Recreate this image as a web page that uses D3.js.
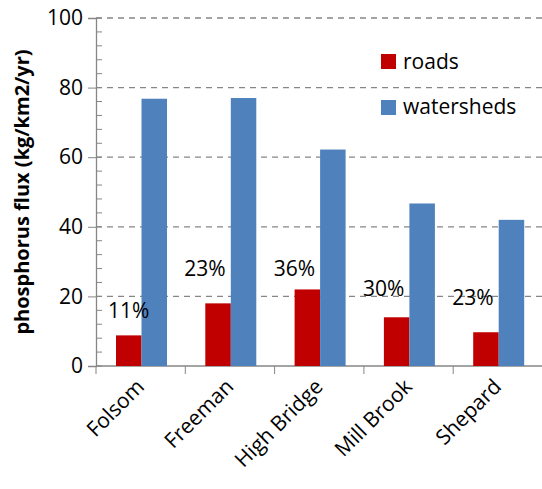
<!DOCTYPE html>
<html><head><meta charset="utf-8">
<script src="https://cdn.jsdelivr.net/npm/d3@7"></script>
<style>body{margin:0;background:#fff}text{font-family:"Open Sans","Liberation Sans",sans-serif}</style>
</head><body><svg id="c" width="542" height="489"></svg>
<script>
// chart values
var sites = ["Folsom", "Freeman", "High Bridge", "Mill Brook", "Shepard"];
var roads = [8.8, 18, 22, 14, 9.7];
var watersheds = [76.8, 77, 62.2, 46.7, 42];
var pctLabels = ["11%", "23%", "36%", "30%", "23%"];
var pctLabelAt = [13.8, 25.8, 25.8, 20, 17.5];
var yTicks = [0, 20, 40, 60, 80, 100];
var yMinor = d3.range(0, 101, 4);

var svg = d3.select("#c");
var mLeft = 96, mRight = 542.5, mTop = 18, mBottom = 366;

var x = d3.scaleBand().domain(sites).range([mLeft, mRight]);
var y = d3.scaleLinear().domain([0, 100]).range([mBottom, mTop]);
var bw = 25.5, off = 20;

// dashed gridlines
svg.selectAll(".g").data(yTicks.slice(1)).enter().append("line")
  .attr("x1", mLeft).attr("x2", 542).attr("y1", d => y(d)).attr("y2", d => y(d))
  .attr("stroke", "#868686").attr("stroke-width", 1.3).attr("stroke-dasharray", "6,5");

// minor ticks (inside)
svg.selectAll(".mt").data(yMinor).enter().append("line")
  .attr("x1", mLeft).attr("x2", mLeft + 6).attr("y1", d => y(d)).attr("y2", d => y(d))
  .attr("stroke", "#868686");

// y axis
var ya = svg.append("g").attr("transform", `translate(${mLeft},0)`)
  .call(d3.axisLeft(y).tickValues(yTicks).tickSize(8).tickPadding(5));
ya.select(".domain").attr("stroke", "#868686").attr("stroke-width", 1.3);
ya.selectAll("line").attr("stroke", "#868686");
ya.selectAll("text").attr("font-size", 21).attr("fill", "#000");

// x axis
svg.append("line").attr("x1", mLeft).attr("x2", 542).attr("y1", mBottom).attr("y2", mBottom)
  .attr("stroke", "#868686").attr("stroke-width", 1.3);
svg.selectAll(".xt").data(d3.range(sites.length)).enter().append("line")
  .attr("x1", i => mLeft + i * x.bandwidth()).attr("x2", i => mLeft + i * x.bandwidth())
  .attr("y1", mBottom).attr("y2", mBottom + 8).attr("stroke", "#868686");
svg.selectAll(".xl").data(sites).enter().append("text")
  .attr("transform", d => `translate(${x(d) + off + bw + 4},${mBottom + 22}) rotate(-45)`)
  .attr("text-anchor", "end").attr("font-size", 21).text(d => d);

// bars
svg.selectAll(".r").data(sites).enter().append("rect")
  .attr("x", d => x(d) + off)
  .attr("width", bw).attr("y", (d, i) => y(roads[i]))
  .attr("height", (d, i) => y(0) - y(roads[i])).attr("fill", "#C00000");
svg.selectAll(".w").data(sites).enter().append("rect")
  .attr("x", d => x(d) + off + bw)
  .attr("width", bw).attr("y", (d, i) => y(watersheds[i]))
  .attr("height", (d, i) => y(0) - y(watersheds[i])).attr("fill", "#4F81BD");

// percent labels
svg.selectAll(".p").data(sites).enter().append("text")
  .attr("x", (d, i) => x(d) + off + bw / 2 - (i ? 13 : 0))
  .attr("y", (d, i) => y(pctLabelAt[i]))
  .attr("text-anchor", "middle").attr("font-size", 21).text((d, i) => pctLabels[i]);

// legend
var leg = [["roads", "#C00000"], ["watersheds", "#4F81BD"]];
leg.forEach((l, i) => {
  svg.append("rect").attr("x", 381).attr("y", 54 + i * 46).attr("width", 15).attr("height", 15).attr("fill", l[1]);
  svg.append("text").attr("x", 403).attr("y", 69 + i * 45).attr("font-size", 21).text(l[0]);
});

// axis title
svg.append("text").attr("transform", `translate(29,${(mTop + mBottom) / 2}) rotate(-90)`)
  .attr("text-anchor", "middle").attr("font-size", 20).attr("font-weight", "bold")
  .text("phosphorus flux (kg/km2/yr)");
</script></body></html>
